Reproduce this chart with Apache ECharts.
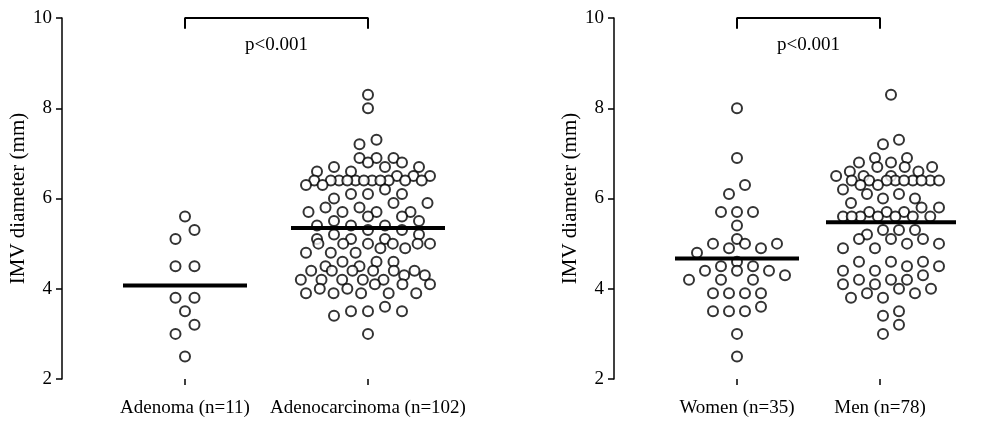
<!DOCTYPE html>
<html><head><meta charset="utf-8">
<script src="https://cdn.jsdelivr.net/npm/echarts@6/dist/echarts.min.js"></script>
<style>html,body{margin:0;padding:0;background:#fff}#c{width:986px;height:423px}</style>
</head><body><div id="c"></div>
<script>
// ---- data ----
const leftCategories = ['Adenoma (n=11)', 'Adenocarcinoma (n=102)'];
const rightCategories = ['Women (n=35)', 'Men (n=78)'];
const yTicks = [2, 4, 6, 8, 10];
const pText = 'p<0.001';
const yName = 'IMV diameter (mm)';

const adenoma = [5.6, 5.3, 5.1, 4.5, 4.5, 3.8, 3.8, 3.5, 3.2, 3.0, 2.5];
const adenocarcinoma = [
  8.3, 8.0, 7.3, 7.2, 6.9, 6.9, 6.9, 6.8, 6.8, 6.7, 6.7, 6.7, 6.6, 6.6,
  6.5, 6.5, 6.5, 6.4, 6.4, 6.4, 6.4, 6.4, 6.4, 6.4, 6.4, 6.4, 6.4, 6.4,
  6.3, 6.3, 6.2, 6.1, 6.1, 6.1, 6.0, 5.9, 5.9, 5.8, 5.8, 5.7, 5.7, 5.7, 5.7,
  5.6, 5.6, 5.5, 5.5, 5.4, 5.4, 5.4, 5.3, 5.3, 5.2, 5.2, 5.1, 5.1, 5.1,
  5.0, 5.0, 5.0, 5.0, 5.0, 5.0, 4.9, 4.9, 4.8, 4.8, 4.8, 4.6, 4.6, 4.6,
  4.5, 4.5, 4.4, 4.4, 4.4, 4.4, 4.4, 4.4, 4.3, 4.3, 4.2, 4.2, 4.2, 4.2, 4.2,
  4.1, 4.1, 4.1, 4.0, 4.0, 3.9, 3.9, 3.9, 3.9, 3.9, 3.6, 3.5, 3.5, 3.5, 3.4, 3.0
];
const women = [
  8.0, 6.9, 6.3, 6.1, 5.7, 5.7, 5.7, 5.4, 5.1, 5.0, 5.0, 5.0, 4.9, 4.9, 4.8,
  4.6, 4.5, 4.5, 4.4, 4.4, 4.4, 4.3, 4.2, 4.2, 4.2, 3.9, 3.9, 3.9, 3.9,
  3.6, 3.5, 3.5, 3.5, 3.0, 2.5
];
const men = [
  8.3, 7.3, 7.2, 6.9, 6.9, 6.8, 6.8, 6.7, 6.7, 6.7, 6.6, 6.6, 6.5, 6.5, 6.5,
  6.4, 6.4, 6.4, 6.4, 6.4, 6.4, 6.4, 6.4, 6.4, 6.3, 6.3, 6.2, 6.1, 6.1, 6.0, 6.0,
  5.9, 5.8, 5.8, 5.7, 5.7, 5.7, 5.6, 5.6, 5.6, 5.6, 5.6, 5.6, 5.6,
  5.3, 5.3, 5.3, 5.2, 5.1, 5.1, 5.1, 5.0, 5.0, 4.9, 4.9, 4.6, 4.6, 4.6,
  4.5, 4.5, 4.4, 4.4, 4.3, 4.2, 4.2, 4.2, 4.1, 4.1, 4.0, 4.0, 3.9, 3.9,
  3.8, 3.8, 3.5, 3.4, 3.2, 3.0
];

// ---- layout ----
const FONT = '"Liberation Serif", "Times New Roman", serif';
const gridTop = 18, gridH = 361;
const pxPerY = gridH / 8;
const L = { left: 62, width: 410, c1: 185, c2: 368 };
const R = { left: 614, width: 360, c1: 737, c2: 880 };
function xRange(g) {
  const u = g.c2 - g.c1;
  const min = 1 - (g.c1 - g.left) / u;
  return { unit: u, min, max: min + g.width / u };
}
const LX = xRange(L), RX = xRange(R);

// row-binned dot layout (Prism-like): returns pixel x offsets
function rowLayout(vals, binTenths, spacing, maxW) {
  const order = vals.map((v, i) => ({ v, i, t: Math.round(v * 10) })).sort((a, b) => a.t - b.t);
  const bins = [];
  let cur = null;
  for (const p of order) {
    if (!cur || p.t - cur.start >= binTenths) { cur = { start: p.t, pts: [] }; bins.push(cur); }
    cur.pts.push(p);
  }
  const off = new Array(vals.length);
  const placed = [];
  for (const b of bins) {
    const n = b.pts.length;
    const sp = n > 1 ? Math.min(spacing, maxW / (n - 1)) : spacing;
    const slots = [];
    for (let k = 0; k < n; k += 2) slots.push(k);
    for (let k = 1; k < n; k += 2) slots.push(k);
    const base = b.pts.map((p, j) => ({ p, x: (slots[j] - (n - 1) / 2) * (n > 1 ? sp : 0), y: p.v * pxPerY }));
    const h = sp / 2;
    let best = 0, bestD = -1;
    for (const sh of [0, h, -h]) {
      let d = Infinity;
      for (const a of base) for (const q of placed) d = Math.min(d, Math.hypot(a.x + sh - q.x, a.y - q.y));
      if (d >= 10.5) { best = sh; bestD = d; break; }
      if (d > bestD + 0.5) { bestD = d; best = sh; }
    }
    for (const a of base) { off[a.p.i] = a.x + best; placed.push({ x: a.x + best, y: a.y }); }
  }
  return off;
}
function pts(vals, center, unit, binT, spacing, maxW) {
  const off = rowLayout(vals, binT, spacing, maxW);
  return vals.map((v, i) => [center + off[i] / unit, v]);
}
const mean = a => a.reduce((s, v) => s + v, 0) / a.length;

const dotStyle = { color: '#fff', borderColor: '#000', borderWidth: 2 };
function dots(data, idx) {
  return { type: 'scatter', xAxisIndex: idx, yAxisIndex: idx, data, symbol: 'circle', symbolSize: 10,
    itemStyle: dotStyle, z: 2, silent: true, animation: false };
}
function meanLine(vals, center, halfPx, unit, idx) {
  const m = mean(vals), h = halfPx / unit;
  return { type: 'line', xAxisIndex: idx, yAxisIndex: idx, data: [[center - h, m], [center + h, m]],
    symbol: 'none', lineStyle: { color: '#000', width: 4 }, z: 5, silent: true, animation: false };
}
function bracket(idx) {
  return { type: 'line', xAxisIndex: idx, yAxisIndex: idx, clip: false,
    data: [[1, 9.76], [1, 10], [2, 10], [2, 9.76]], symbol: 'none',
    lineStyle: { color: '#000', width: 2 }, z: 5, silent: true, animation: false };
}
function xAxis(r, idx, cats) {
  return { type: 'value', gridIndex: idx, min: r.min, max: r.max,
    axisLine: { show: false }, splitLine: { show: false },
    axisTick: { show: true, customValues: [1, 2], length: 6, lineStyle: { color: '#000', width: 1.5 } },
    axisLabel: { show: true, customValues: [1, 2], margin: 20, fontFamily: FONT, fontSize: 19, color: '#000',
      formatter: v => cats[Math.round(v) - 1] } };
}
function yAxis(idx) {
  return { type: 'value', gridIndex: idx, min: yTicks[0], max: yTicks[yTicks.length - 1], interval: 2,
    name: yName, nameLocation: 'middle', nameRotate: 90, nameGap: 33,
    nameTextStyle: { fontFamily: FONT, fontSize: 21, color: '#000' },
    axisLine: { show: true, lineStyle: { color: '#000', width: 1.5 } },
    axisTick: { show: true, length: 6, lineStyle: { color: '#000', width: 1.5 } },
    splitLine: { show: false },
    axisLabel: { margin: 10, fontFamily: FONT, fontSize: 19, color: '#000' } };
}

const menShift = 11 / RX.unit; // Prism drew the Men column slightly right of its tick
const chart = echarts.init(document.getElementById('c'), null, { renderer: 'canvas' });
chart.setOption({
  backgroundColor: '#fff',
  animation: false,
  grid: [
    { left: L.left, top: gridTop, width: L.width, height: gridH },
    { left: R.left, top: gridTop, width: R.width, height: gridH }
  ],
  xAxis: [xAxis(LX, 0, leftCategories), xAxis(RX, 1, rightCategories)],
  yAxis: [yAxis(0), yAxis(1)],
  series: [
    dots(pts(adenoma, 1, LX.unit, 3, 19, 120), 0),
    dots(pts(adenocarcinoma, 2, LX.unit, 3, 17, 124), 0),
    meanLine(adenoma, 1, 62, LX.unit, 0),
    meanLine(adenocarcinoma, 2, 77, LX.unit, 0),
    bracket(0),
    dots(pts(women, 1, RX.unit, 3, 16, 96), 1),
    dots(pts(men, 2 + menShift, RX.unit, 3, 16, 96), 1),
    meanLine(women, 1, 62, RX.unit, 1),
    meanLine(men, 2 + menShift, 65, RX.unit, 1),
    bracket(1)
  ]
});
// p-value annotations placed through the axes' own scales
const pPos = [0, 1].map(g => chart.convertToPixel({ gridIndex: g }, [1.5, 9.4]));
chart.setOption({
  graphic: pPos.map(p => ({ type: 'text', x: p[0], y: p[1], silent: true,
    style: { text: pText, fill: '#000', font: '19px ' + FONT, align: 'center', verticalAlign: 'middle' } }))
});
</script></body></html>
